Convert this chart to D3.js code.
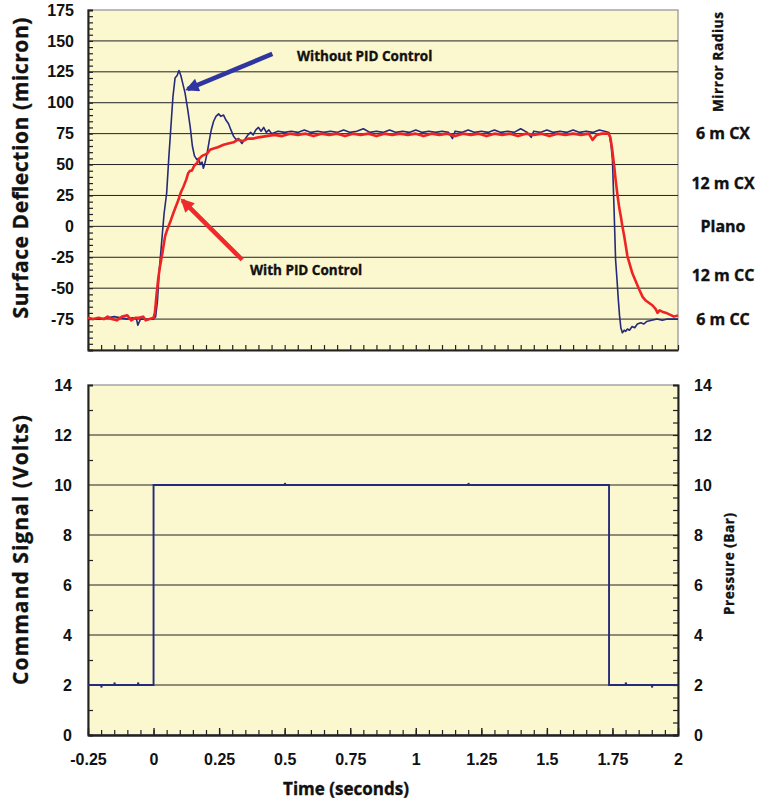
<!DOCTYPE html>
<html>
<head>
<meta charset="utf-8">
<script src="https://cdn.jsdelivr.net/npm/d3@7"></script>
<style>
  body { margin: 0; background: #fff; }
  text { font-family: "Liberation Sans", Arial, sans-serif; font-weight: bold; fill: #111; }
  .title { font-family: "Open Sans", "Noto Sans", sans-serif; font-weight: 700; stroke: #111; stroke-width: 0.35px; }
</style>
</head>
<body>
<script>
// deflection of the mirror surface, [time s, micron]
const withoutPid = [
  [-0.25, -75], [-0.225, -75], [-0.2, -75], [-0.175, -74], [-0.15, -73], [-0.125, -74],
  [-0.1, -75], [-0.08, -74], [-0.065, -75], [-0.06, -80], [-0.05, -75], [-0.03, -75],
  [-0.015, -75], [0.0, -75], [0.008, -73], [0.015, -60], [0.022, -35], [0.03, -15],
  [0.04, 10], [0.05, 27], [0.058, 55], [0.066, 80], [0.074, 105], [0.082, 120],
  [0.09, 122], [0.097, 126], [0.104, 122], [0.112, 115], [0.12, 108], [0.13, 95],
  [0.14, 80], [0.148, 65], [0.156, 57], [0.165, 54], [0.172, 55], [0.178, 50],
  [0.185, 52], [0.19, 47], [0.197, 52], [0.205, 60], [0.213, 70], [0.22, 78],
  [0.229, 85], [0.238, 89], [0.248, 91], [0.257, 89], [0.267, 90], [0.276, 86],
  [0.286, 83], [0.295, 78], [0.305, 73], [0.315, 70], [0.325, 71], [0.337, 67],
  [0.35, 71], [0.36, 74], [0.37, 76], [0.38, 74], [0.39, 78], [0.4, 80],
  [0.41, 77], [0.42, 80], [0.43, 76], [0.44, 78], [0.45, 75], [0.475, 77],
  [0.5, 76], [0.525, 77], [0.55, 76], [0.575, 78], [0.6, 76], [0.625, 77],
  [0.65, 76], [0.675, 77], [0.7, 76], [0.725, 78], [0.75, 76], [0.775, 77],
  [0.8, 79], [0.825, 76], [0.85, 77], [0.875, 76], [0.9, 78], [0.925, 76],
  [0.95, 77], [0.975, 76], [1.0, 78], [1.025, 76], [1.05, 77], [1.075, 76],
  [1.1, 77], [1.125, 76], [1.14, 71], [1.15, 77], [1.175, 76], [1.2, 78],
  [1.225, 76], [1.25, 77], [1.275, 76], [1.3, 78], [1.325, 76], [1.35, 77],
  [1.375, 76], [1.4, 79], [1.425, 76], [1.44, 72], [1.45, 77], [1.475, 76],
  [1.5, 78], [1.525, 76], [1.55, 77], [1.575, 76], [1.6, 78], [1.625, 76],
  [1.65, 77], [1.675, 76], [1.7, 78], [1.72, 77], [1.737, 76], [1.745, 65],
  [1.75, 54], [1.756, 15], [1.762, -27], [1.768, -45], [1.772, -58], [1.777, -72],
  [1.782, -82], [1.788, -86], [1.795, -84], [1.8, -85], [1.807, -83], [1.815, -84],
  [1.825, -81], [1.835, -82], [1.845, -79], [1.858, -78], [1.87, -79], [1.88, -77],
  [1.9, -76], [1.92, -75], [1.94, -76], [1.96, -75], [1.98, -75], [2.0, -75]
];

const withPid = [
  [-0.25, -74], [-0.23, -75], [-0.21, -74], [-0.19, -75], [-0.175, -73], [-0.16, -75],
  [-0.14, -76], [-0.12, -73], [-0.1, -72], [-0.085, -76], [-0.07, -74], [-0.055, -74],
  [-0.04, -73], [-0.03, -76], [-0.015, -75], [0.0, -74], [0.005, -70], [0.012, -54],
  [0.018, -42], [0.025, -32], [0.035, -20], [0.044, -8], [0.05, -4], [0.057, 0],
  [0.066, 5], [0.076, 11], [0.085, 16], [0.095, 21.5], [0.1, 25], [0.105, 28],
  [0.114, 32], [0.125, 38], [0.132, 43], [0.139, 45], [0.146, 45], [0.155, 49],
  [0.165, 51], [0.175, 55], [0.185, 57], [0.196, 58], [0.205, 59], [0.215, 62],
  [0.229, 63], [0.245, 64], [0.267, 66], [0.285, 67], [0.305, 68], [0.32, 70],
  [0.34, 69], [0.36, 71], [0.381, 71], [0.4, 72], [0.43, 73], [0.46, 74],
  [0.49, 73], [0.52, 75], [0.55, 74], [0.58, 75], [0.61, 73], [0.64, 75],
  [0.67, 74], [0.7, 75], [0.73, 73], [0.76, 75], [0.79, 74], [0.82, 75],
  [0.85, 73], [0.88, 75], [0.91, 74], [0.94, 75], [0.97, 74], [1.0, 75],
  [1.03, 73], [1.06, 75], [1.09, 74], [1.12, 75], [1.15, 73], [1.18, 75],
  [1.21, 74], [1.24, 75], [1.27, 73], [1.3, 75], [1.33, 74], [1.36, 75],
  [1.39, 73], [1.42, 75], [1.45, 74], [1.48, 75], [1.51, 73], [1.54, 75],
  [1.57, 74], [1.6, 75], [1.63, 74], [1.66, 75], [1.674, 70], [1.69, 74],
  [1.71, 75], [1.735, 75], [1.742, 72], [1.748, 64], [1.757, 48], [1.763, 36],
  [1.77, 24], [1.776, 15], [1.782, 8], [1.788, 0], [1.795, -8], [1.801, -16],
  [1.807, -24], [1.815, -30], [1.826, -38], [1.838, -44], [1.852, -51], [1.865, -57],
  [1.877, -60], [1.89, -62], [1.903, -64], [1.915, -67], [1.922, -70], [1.93, -68],
  [1.94, -69], [1.955, -70], [1.965, -71], [1.975, -72], [1.985, -73], [2.0, -72]
];

// command signal, [time s, volts]
const command = [
  [-0.25, 2], [-0.2, 2], [-0.199, 1.9], [-0.197, 2], [-0.15, 2], [-0.149, 2.1],
  [-0.147, 2], [-0.06, 2], [-0.059, 2.1], [-0.057, 2], [0.0, 2], [0.0, 10],
  [0.5, 10], [0.501, 10.08], [0.503, 10], [1.2, 10], [1.201, 10.08], [1.203, 10],
  [1.737, 10], [1.737, 2], [1.8, 2], [1.801, 2.1], [1.803, 2], [1.9, 2],
  [1.901, 1.9], [1.903, 2], [2.0, 2]
];

const timeTicks = [-0.25, 0, 0.25, 0.5, 0.75, 1, 1.25, 1.5, 1.75, 2];
const deflTicks = [-75, -50, -25, 0, 25, 50, 75, 100, 125, 150, 175];
const voltTicks = [0, 2, 4, 6, 8, 10, 12, 14];
const radiusLabels = ["6 m CX", "12 m CX", "Plano", "12 m CC", "6 m CC"];
const radiusValues = [75, 35, 0, -40, -75];

const w = 761, h = 799;
const left = 88, right = 678;
const top1 = 10, bot1 = 350;
const top2 = 385, bot2 = 735;
const bg = "#fbf7cf";

const svg = d3.select("body").append("svg")
  .attr("width", w).attr("height", h);

const x = d3.scaleLinear().domain([-0.25, 2]).range([left, right]);
const yTop = d3.scaleLinear().domain([-100, 175]).range([bot1, top1]);
const yBot = d3.scaleLinear().domain([0, 14]).range([bot2, top2]);
const fmt = d => String(d);

// panels
svg.append("rect").attr("x", left).attr("y", top1)
  .attr("width", right - left).attr("height", bot1 - top1)
  .attr("fill", bg).attr("stroke", "#a5a5a5").attr("stroke-width", 1.5);
svg.append("rect").attr("x", left).attr("y", top2)
  .attr("width", right - left).attr("height", bot2 - top2)
  .attr("fill", bg).attr("stroke", "#a5a5a5").attr("stroke-width", 1.5);

// grid
svg.append("g").selectAll("line")
  .data(deflTicks.filter(d => d < 175))
  .enter().append("line")
  .attr("x1", left).attr("x2", right)
  .attr("y1", d => yTop(d)).attr("y2", d => yTop(d))
  .attr("stroke", "#222").attr("stroke-width", 1);
svg.append("g").selectAll("line")
  .data(voltTicks.filter(d => d > 0 && d < 14))
  .enter().append("line")
  .attr("x1", left).attr("x2", right)
  .attr("y1", d => yBot(d)).attr("y2", d => yBot(d))
  .attr("stroke", "#222").attr("stroke-width", 1);

function styleAxis(g, width) {
  g.selectAll(".domain").attr("stroke", "#222").attr("stroke-width", width);
  g.selectAll(".tick line").attr("stroke", "#222").attr("stroke-width", 1.2);
}

// top chart axes
const gTopLeft = svg.append("g").attr("transform", `translate(${left},0)`)
  .call(d3.axisRight(yTop).tickValues(d3.range(-100, 176, 5)).tickSize(5).tickFormat(""));
styleAxis(gTopLeft, 2);
const gTopLab = svg.append("g").attr("transform", `translate(${left},0)`)
  .call(d3.axisLeft(yTop).tickValues(deflTicks).tickSize(0).tickPadding(14).tickFormat(fmt));
gTopLab.select(".domain").remove();
gTopLab.selectAll("text").style("font-size", "16px");

const gTopX = svg.append("g").attr("transform", `translate(0,${bot1})`)
  .call(d3.axisTop(x).tickValues(d3.range(-0.25, 2.001, 0.05)).tickSize(5).tickSizeOuter(0).tickFormat(""));
styleAxis(gTopX, 2);

// bottom chart axes
const gBotLeft = svg.append("g").attr("transform", `translate(${left},0)`)
  .call(d3.axisRight(yBot).tickValues(d3.range(1, 14, 2)).tickSize(5).tickFormat(""));
styleAxis(gBotLeft, 2);
const gBotLab = svg.append("g").attr("transform", `translate(${left},0)`)
  .call(d3.axisLeft(yBot).tickValues(voltTicks).tickSize(0).tickPadding(16));
gBotLab.select(".domain").remove();
gBotLab.selectAll("text").style("font-size", "16px");

const gBotRight = svg.append("g").attr("transform", `translate(${right},0)`)
  .call(d3.axisLeft(yBot).tickValues(d3.range(0, 14.01, 0.5)).tickSize(5).tickFormat(""));
styleAxis(gBotRight, 2);
const gBotRLab = svg.append("g").attr("transform", `translate(${right},0)`)
  .call(d3.axisRight(yBot).tickValues(voltTicks).tickSize(0).tickPadding(16));
gBotRLab.select(".domain").remove();
gBotRLab.selectAll("text").style("font-size", "16px");

const gBotX = svg.append("g").attr("transform", `translate(0,${bot2})`)
  .call(d3.axisTop(x).tickValues(d3.range(-0.25, 2.001, 0.05)).tickSize(5).tickSizeOuter(0).tickFormat(""));
styleAxis(gBotX, 2.5);
svg.append("g").attr("transform", `translate(0,${bot2})`)
  .call(d3.axisTop(x).tickValues(timeTicks).tickSize(7).tickFormat(""))
  .call(g => { g.select(".domain").remove(); g.selectAll("line").attr("stroke", "#222").attr("stroke-width", 1.4); });
const gBotXLab = svg.append("g").attr("transform", `translate(0,${bot2})`)
  .call(d3.axisBottom(x).tickValues(timeTicks).tickSize(0).tickPadding(19).tickFormat(fmt));
gBotXLab.select(".domain").remove();
gBotXLab.selectAll("text").style("font-size", "16px");

// right labels of the top chart
const gRad = svg.append("g").attr("transform", `translate(${right + 45},0)`)
  .call(d3.axisRight(yTop).tickValues(radiusValues).tickSize(0).tickPadding(0)
    .tickFormat((d, i) => radiusLabels[i]));
gRad.select(".domain").remove();
gRad.selectAll("text").attr("class", "title").attr("text-anchor", "middle").style("font-size", "16px");

// lines
const line = d3.line().x(d => x(d[0]));
svg.append("path").datum(withoutPid)
  .attr("d", line.y(d => yTop(d[1])))
  .attr("fill", "none").attr("stroke", "#262a7a").attr("stroke-width", 1.6)
  .attr("stroke-linejoin", "round");
svg.append("path").datum(withPid)
  .attr("d", line.y(d => yTop(d[1])))
  .attr("fill", "none").attr("stroke", "#ee2424").attr("stroke-width", 2.6)
  .attr("stroke-linejoin", "round");
svg.append("path").datum(command)
  .attr("d", line.y(d => yBot(d[1])))
  .attr("fill", "none").attr("stroke", "#262a7a").attr("stroke-width", 1.9);

// annotations
const defs = svg.append("defs");
[["ahBlue", "#3036a0"], ["ahRed", "#ee2a2a"]].forEach(([id, c]) => {
  defs.append("marker").attr("id", id).attr("viewBox", "0 0 10 10")
    .attr("refX", 8).attr("refY", 5).attr("markerWidth", 3.4).attr("markerHeight", 3)
    .attr("orient", "auto").attr("markerUnits", "strokeWidth")
    .append("path").attr("d", "M0,0L10,5L0,10Z").attr("fill", c);
});
svg.append("line").attr("x1", x(0.453)).attr("y1", yTop(139.5)).attr("x2", x(0.13)).attr("y2", yTop(111))
  .attr("stroke", "#3036a0").attr("stroke-width", 4.5).attr("marker-end", "url(#ahBlue)");
svg.append("line").attr("x1", x(0.338)).attr("y1", yTop(-27)).attr("x2", x(0.11)).attr("y2", yTop(21))
  .attr("stroke", "#ee2a2a").attr("stroke-width", 4.5).attr("marker-end", "url(#ahRed)");
svg.append("text").attr("class", "title").attr("x", 297).attr("y", 61)
  .style("font-size", "13.5px").text("Without PID Control");
svg.append("text").attr("class", "title").attr("x", 250).attr("y", 275)
  .style("font-size", "13.5px").text("With PID Control");

// axis titles
function vTitle(txt, cx, cy, size, len) {
  const t = svg.append("text").attr("class", "title")
    .attr("transform", `translate(${cx},${cy}) rotate(-90)`)
    .attr("text-anchor", "middle").attr("dominant-baseline", "central")
    .style("font-size", size + "px").text(txt);
  if (len) t.attr("textLength", len).attr("lengthAdjust", "spacing");
}
vTitle("Surface Deflection (micron)", 20, 168, 21, 301);
vTitle("Command Signal (Volts)", 20, 550, 21, 270);
vTitle("Mirror Radius", 718, 62, 13.5, 100);
vTitle("Pressure (Bar)", 729, 564, 13.5, 102);
svg.append("text").attr("class", "title").attr("x", 346).attr("y", 795)
  .attr("text-anchor", "middle").style("font-size", "17px").text("Time (seconds)");
</script>
</body>
</html>
